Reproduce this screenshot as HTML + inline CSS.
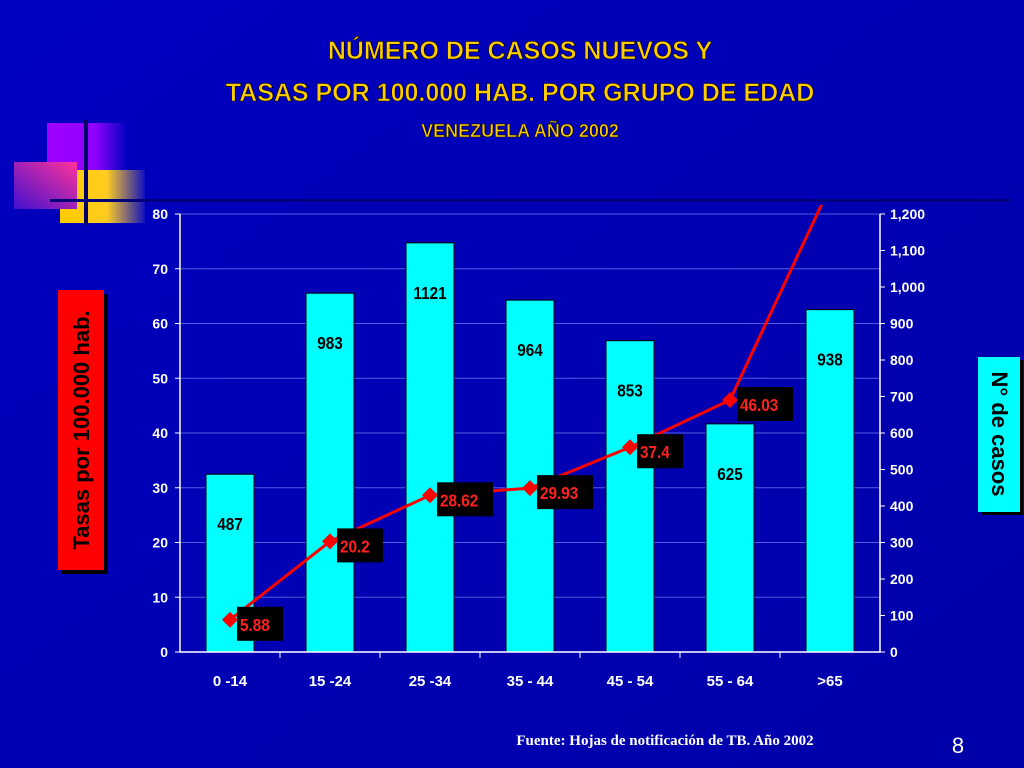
<!DOCTYPE html>
<html><head><meta charset="utf-8"><style>
body{margin:0;width:1024px;height:768px;overflow:hidden;background:#0000b4;}
svg{display:block;font-family:"Liberation Sans",sans-serif;}
</style></head><body>
<svg width="1024" height="768" viewBox="0 0 1024 768">
<defs>
<linearGradient id="bg" x1="0" y1="0" x2="1" y2="1"><stop offset="0" stop-color="#0000c0"/><stop offset="1" stop-color="#0000a8"/></linearGradient>
<linearGradient id="pur" x1="0" x2="1"><stop offset="0" stop-color="#a000ff"/><stop offset="0.6" stop-color="#9000ff"/><stop offset="1" stop-color="#0000c0"/></linearGradient>
<linearGradient id="yel" x1="0" x2="1"><stop offset="0" stop-color="#ffcc00"/><stop offset="0.55" stop-color="#ffcc22"/><stop offset="1" stop-color="#1010c0"/></linearGradient>
<linearGradient id="pink" x1="1" y1="0" x2="0" y2="1"><stop offset="0" stop-color="#ff3399"/><stop offset="1" stop-color="#4010d0"/></linearGradient>
<clipPath id="plotclip"><rect x="180" y="205" width="700" height="450"/></clipPath>
</defs>
<rect width="1024" height="768" fill="url(#bg)"/>
<g>
<rect x="47" y="123" width="80" height="60" fill="url(#pur)"/>
<rect x="60" y="170" width="85" height="53" fill="url(#yel)"/>
<rect x="14" y="162" width="63" height="47" fill="url(#pink)"/>
<rect x="84" y="120" width="4" height="105" fill="#000066"/>
<rect x="50" y="199" width="960" height="3" fill="#00007a"/>
</g>
<g font-weight="bold" fill="#ffcc00" text-anchor="middle" stroke="#000" stroke-width="0.6">
<text x="520" y="59" font-size="25">NÚMERO DE CASOS NUEVOS Y</text>
<text x="520" y="101" font-size="25">TASAS POR 100.000 HAB. POR GRUPO DE EDAD</text>
<text x="520" y="137" font-size="18">VENEZUELA AÑO 2002</text>
</g>
<g>
<rect x="62" y="294" width="46" height="280" fill="#000"/>
<rect x="58" y="290" width="46" height="280" fill="#ff0000"/>
<text transform="translate(89,430) rotate(-90)" text-anchor="middle" font-size="22" font-weight="bold" fill="#000">Tasas por 100.000 hab.</text>
</g>
<g>
<rect x="981" y="360" width="42" height="155" fill="#000"/>
<rect x="978" y="357" width="42" height="155" fill="#00ffff"/>
<text transform="translate(992,434) rotate(90)" text-anchor="middle" font-size="22" font-weight="bold" fill="#000">N° de casos</text>
</g>
<g id="grid"></g><g id="bars"></g><g id="axes"></g><g id="line" clip-path="url(#plotclip)"></g><g id="labels"></g>
<text x="665" y="745" text-anchor="middle" font-family="Liberation Serif,serif" font-weight="bold" font-size="15" fill="#ffffff">Fuente: Hojas de notificación de TB. Año 2002</text>
<text x="958" y="753" text-anchor="middle" font-size="22" fill="#ffffff">8</text>
</svg>
<script>
const categories=["0 -14","15 -24","25 -34","35 - 44","45 - 54","55 - 64",">65"];
const cases=[487,983,1121,964,853,625,938];
const rates=[5.88,20.2,28.62,29.93,37.4,46.03,85];
const rateLabels=["5.88","20.2","28.62","29.93","37.4","46.03",""];
const leftTicks=[0,10,20,30,40,50,60,70,80];
const rightTicks=[0,100,200,300,400,500,600,700,800,900,1000,1100,1200];
const NS="http://www.w3.org/2000/svg";
const X0=180,X1=880,Y0=652,Y1=214;
const yL=v=>Y0-(v/80)*(Y0-Y1);
const yR=v=>Y0-(v/1200)*(Y0-Y1);
const step=(X1-X0)/categories.length;
const xC=i=>X0+step*(i+0.5);
function mk(tag,attrs,parent,txt){const e=document.createElementNS(NS,tag);for(const k in attrs)e.setAttribute(k,attrs[k]);if(txt!==undefined)e.textContent=txt;document.getElementById(parent).appendChild(e);return e;}
leftTicks.forEach(t=>{
 if(t>0){const g=mk('line',{x1:X0,x2:X1,y1:yL(t),y2:yL(t),stroke:'#4f5fe0','stroke-width':1},'grid');
 
 }
 const tk=mk('line',{x1:X0-5,x2:X0,y1:yL(t),y2:yL(t),stroke:'#fff'},'axes');
 
 
 const l=mk('text',{x:X0-12,y:yL(t)+5,'text-anchor':'end','font-size':14,'font-weight':'bold',fill:'#fff'},'axes',String(t));
 
 
});
rightTicks.forEach(t=>{
 const tk=mk('line',{x1:X1,x2:X1+5,y1:yR(t),y2:yR(t),stroke:'#fff'},'axes');
 
 
 const l=mk('text',{x:X1+10,y:yR(t)+5,'font-size':14,'font-weight':'bold',fill:'#fff'},'axes',t.toLocaleString('en-US'));
 
 
});
const ax=mk('path',{d:`M${X0} ${Y1}V${Y0}H${X1}V${Y1}`,fill:'none',stroke:'#fff','stroke-width':1.5},'axes');


categories.forEach((c,i)=>{
 const xb=X0+step*(i+1);
 if(i<categories.length-1){const tk=mk('line',{x1:xb,x2:xb,y1:Y0,y2:Y0+6,stroke:'#fff'},'axes');
 
 }
 const l=mk('text',{x:xC(i),y:Y0+34,'text-anchor':'middle','font-size':15,'font-weight':'bold',fill:'#fff'},'axes',c);
 
 
 const top=yR(cases[i]);
 const b=mk('rect',{x:xC(i)-24,y:top,width:48,height:Y0-top,fill:'#00ffff',stroke:'#000','stroke-width':1},'bars');
 
 
 const bl=mk('text',{x:xC(i),y:top+56,'text-anchor':'middle','font-size':18,'font-weight':'bold',fill:'#000',transform:`translate(${xC(i)},0) scale(0.85,1) translate(${-xC(i)},0)`},'labels',String(cases[i]));
 
 
});
const pts=rates.map((r,i)=>[xC(i),yL(r)]);
const pl=mk('polyline',{points:pts.map(p=>p.join(',')).join(' '),fill:'none',stroke:'#ff0000','stroke-width':3},'line');


pts.forEach((p,i)=>{
 const m=mk('path',{d:`M${p[0]} ${p[1]-8}L${p[0]+8} ${p[1]}L${p[0]} ${p[1]+8}L${p[0]-8} ${p[1]}Z`,fill:'#ff0000'},'line');
 
 
 if(rateLabels[i]){
  const w=rateLabels[i].length*10+6;
  const r=mk('rect',{x:p[0]+7,y:p[1]-13,width:w,height:34,fill:'#000'},'labels');
  
  
  const t=mk('text',{x:p[0]+10,y:p[1]+11,'font-size':18,'font-weight':'bold',fill:'#ff2020',transform:`translate(${p[0]+10},0) scale(0.85,1) translate(${-(p[0]+10)},0)`},'labels',rateLabels[i]);
  
  
 }
});
</script>
</body></html>
